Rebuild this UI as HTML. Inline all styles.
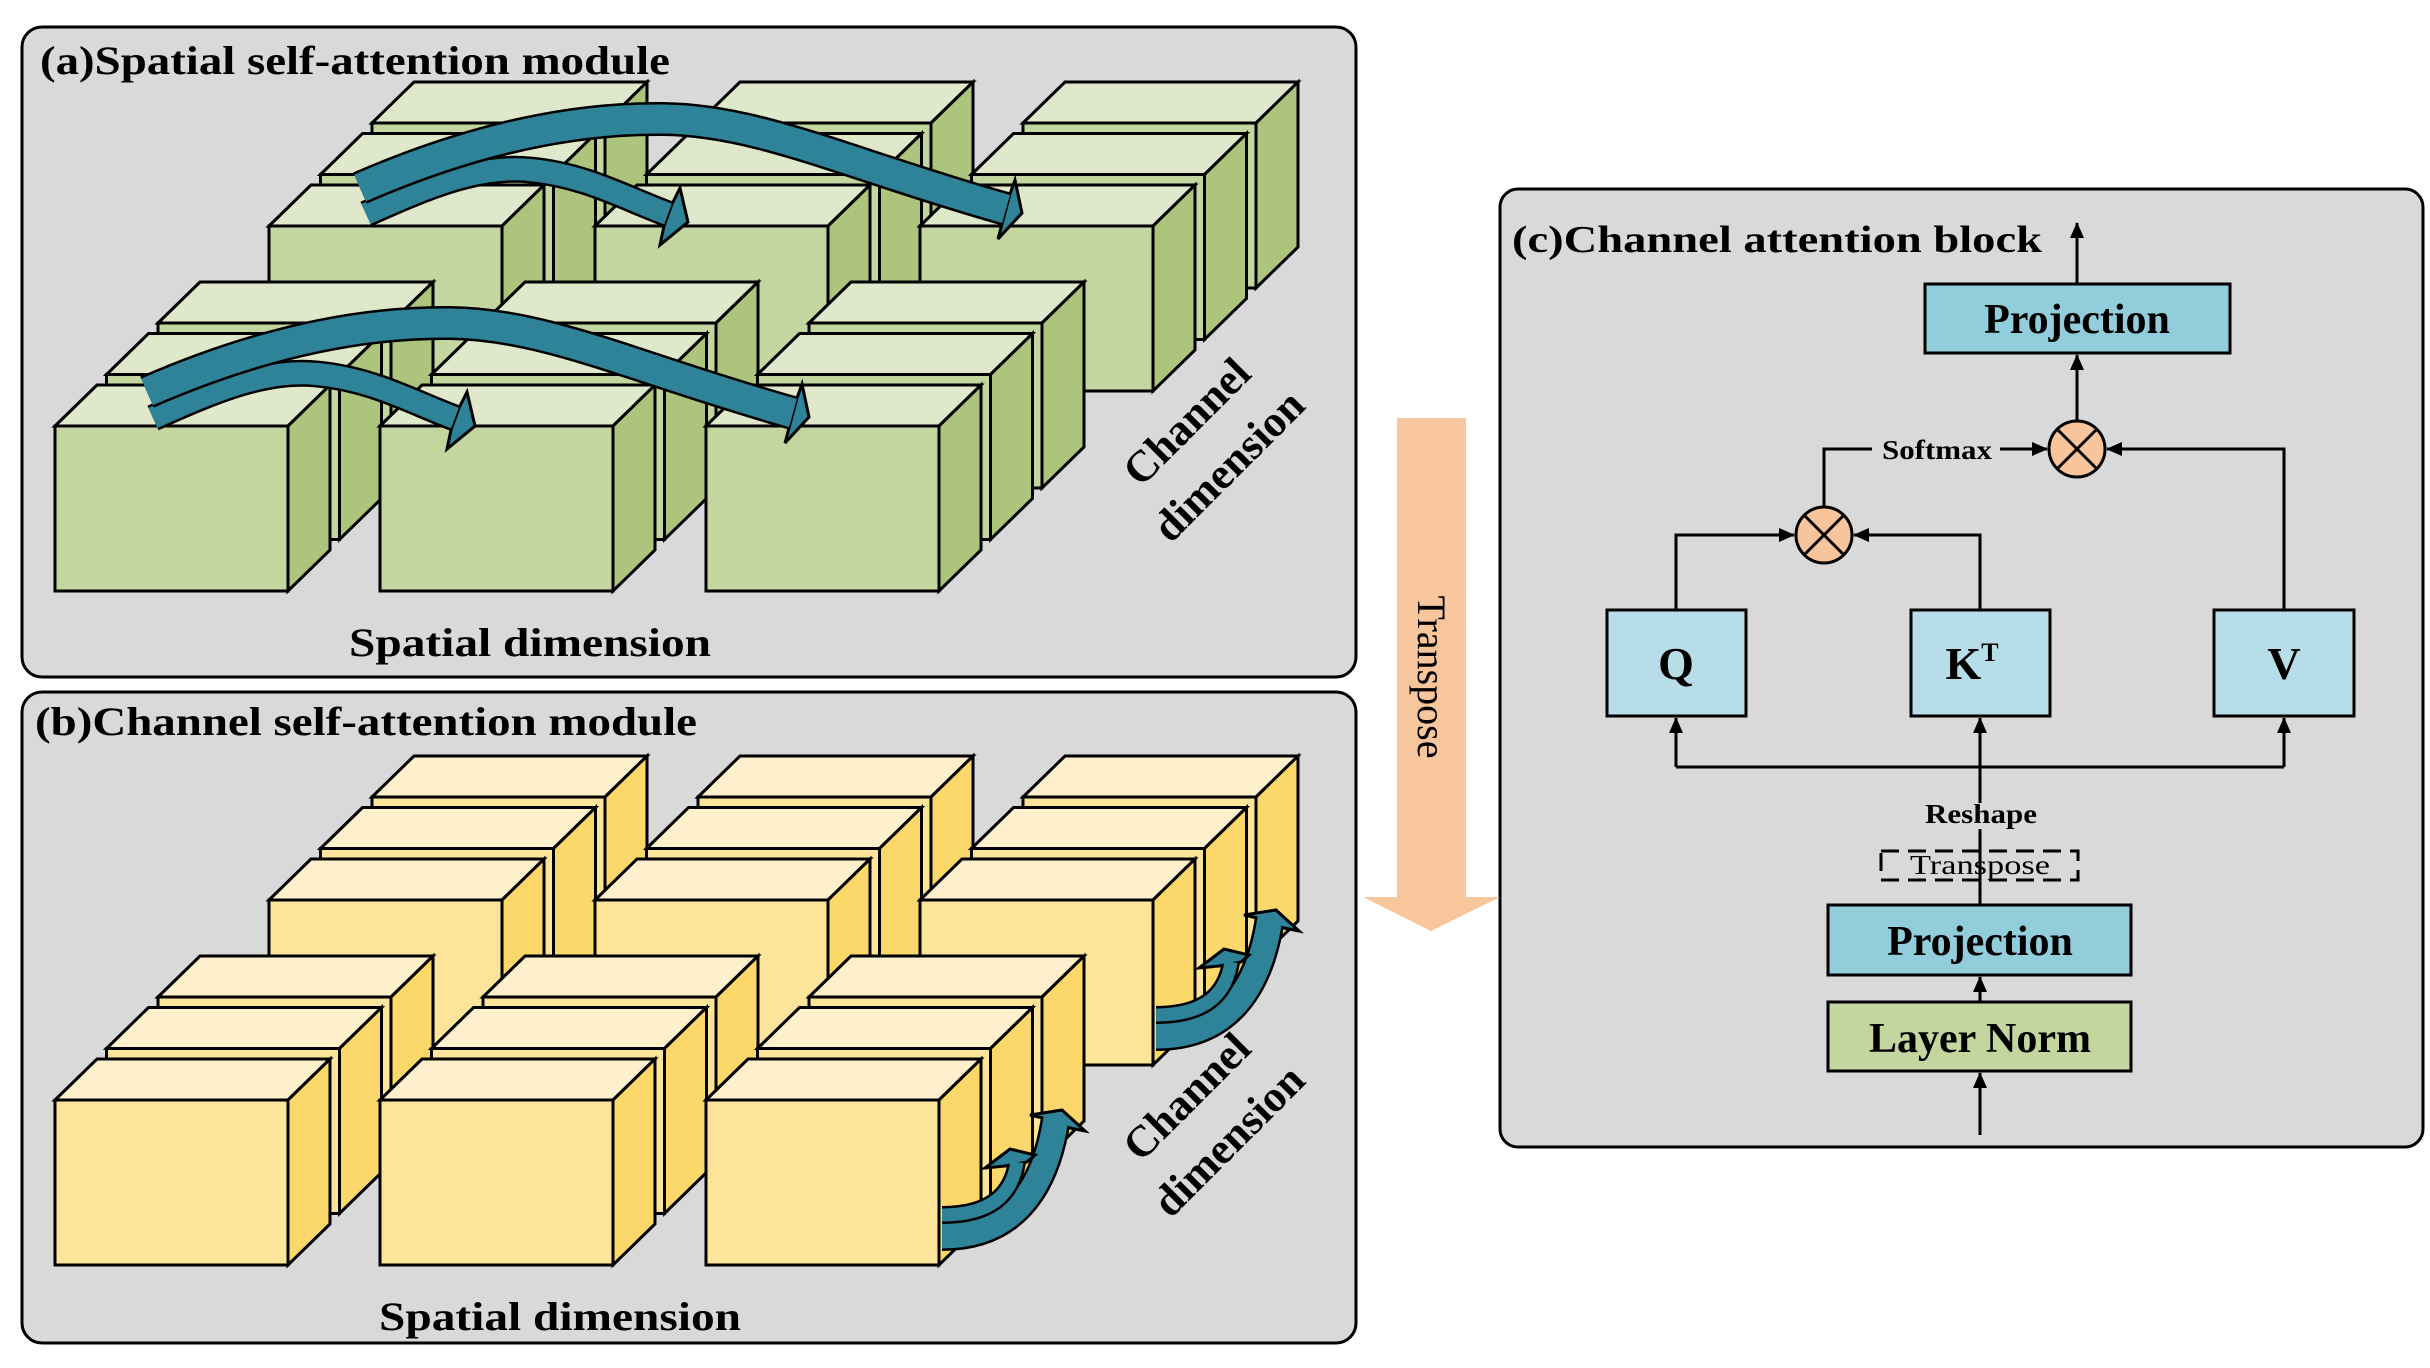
<!DOCTYPE html>
<html><head><meta charset="utf-8">
<style>
html,body{margin:0;padding:0;background:#fff;width:2430px;height:1368px;overflow:hidden}
svg{display:block}
text{font-family:"Liberation Serif",serif;font-weight:bold;fill:#000}
</style></head>
<body>
<svg id="s" width="2430" height="1368" viewBox="0 0 2430 1368" xmlns="http://www.w3.org/2000/svg">
<defs>
<marker id="ah2" markerWidth="16" markerHeight="16" refX="15" refY="8" orient="auto" markerUnits="userSpaceOnUse">
<path d="M0,1 L16,8 L0,15 Z" fill="#000"/></marker>
</defs>
<rect width="2430" height="1368" fill="#fff"/>
<rect x="22" y="27" width="1334" height="650" rx="20" fill="#d9d9d9" stroke="#000" stroke-width="3"/>
<rect x="22" y="692" width="1334" height="651" rx="20" fill="#d9d9d9" stroke="#000" stroke-width="3"/>
<rect x="1500" y="189" width="923" height="958" rx="18" fill="#d9d9d9" stroke="#000" stroke-width="3"/>
<g id="cubesA"></g>
<g id="cubesB"></g>
<text x="40" y="74" font-size="40" textLength="630" lengthAdjust="spacingAndGlyphs">(a)Spatial self-attention module</text>
<text x="35" y="735" font-size="40" textLength="662" lengthAdjust="spacingAndGlyphs">(b)Channel self-attention module</text>
<text x="349" y="656" font-size="40" textLength="362" lengthAdjust="spacingAndGlyphs">Spatial dimension</text>
<text x="379" y="1330" font-size="40" textLength="362" lengthAdjust="spacingAndGlyphs">Spatial dimension</text>
<g transform="translate(1187,422) rotate(-45)"><text x="0" y="14" font-size="44" text-anchor="middle">Channel</text></g>
<g transform="translate(1229,466) rotate(-45)"><text x="0" y="14" font-size="44" text-anchor="middle">dimension</text></g>
<g transform="translate(1187,1097) rotate(-45)"><text x="0" y="14" font-size="44" text-anchor="middle">Channel</text></g>
<g transform="translate(1229,1141) rotate(-45)"><text x="0" y="14" font-size="44" text-anchor="middle">dimension</text></g>
<polygon points="1397,418 1466,418 1466,897 1500,897 1431,931 1363,897 1397,897" fill="#f8c69c"/>
<g transform="translate(1418,677) rotate(90)"><text x="0" y="0" font-size="40" style="font-weight:normal" text-anchor="middle">Transpose</text></g>
<text x="1512" y="252" font-size="38" textLength="530" lengthAdjust="spacingAndGlyphs">(c)Channel attention block</text>
<g stroke="#000" stroke-width="3" fill="none">
<line x1="2077" y1="283" x2="2077" y2="223" marker-end="url(#ah2)"/>
<line x1="2077" y1="421" x2="2077" y2="355" marker-end="url(#ah2)"/>
<polyline points="1824,507 1824,449 1872,449"/>
<line x1="2000" y1="449" x2="2047" y2="449" marker-end="url(#ah2)"/>
<polyline points="2284,610 2284,449 2107,449" marker-end="url(#ah2)"/>
<polyline points="1676,610 1676,535 1794,535" marker-end="url(#ah2)"/>
<polyline points="1980,610 1980,535 1854,535" marker-end="url(#ah2)"/>
<polyline points="1676,767 2284,767"/>
<line x1="1676" y1="767" x2="1676" y2="718" marker-end="url(#ah2)"/>
<line x1="2284" y1="767" x2="2284" y2="718" marker-end="url(#ah2)"/>
<line x1="1980" y1="905" x2="1980" y2="718" marker-end="url(#ah2)"/>
<line x1="1980" y1="1002" x2="1980" y2="977" marker-end="url(#ah2)"/>
<line x1="1980" y1="1135" x2="1980" y2="1073" marker-end="url(#ah2)"/>
</g>
<rect x="1925" y="284" width="305" height="69" fill="#92cddc" stroke="#000" stroke-width="3"/>
<text x="2077" y="333" font-size="42" text-anchor="middle">Projection</text>
<rect x="1607" y="610" width="139" height="106" fill="#b7dde8" stroke="#000" stroke-width="3"/>
<text x="1676" y="679" font-size="46" text-anchor="middle">Q</text>
<rect x="1911" y="610" width="139" height="106" fill="#b7dde8" stroke="#000" stroke-width="3"/>
<text x="1972" y="679" font-size="46" text-anchor="middle">K<tspan font-size="26" dy="-18">T</tspan></text>
<rect x="2214" y="610" width="140" height="106" fill="#b7dde8" stroke="#000" stroke-width="3"/>
<text x="2284" y="679" font-size="46" text-anchor="middle">V</text>
<rect x="1828" y="905" width="303" height="70" fill="#92cddc" stroke="#000" stroke-width="3"/>
<text x="1980" y="955" font-size="42" text-anchor="middle">Projection</text>
<rect x="1828" y="1002" width="303" height="69" fill="#c4d69f" stroke="#000" stroke-width="3"/>
<text x="1980" y="1052" font-size="42" text-anchor="middle">Layer Norm</text>
<text x="1882" y="459" font-size="27" textLength="110" lengthAdjust="spacingAndGlyphs">Softmax</text>
<rect x="1920" y="803" width="120" height="26" fill="#d9d9d9"/>
<text x="1925" y="823" font-size="27" textLength="112" lengthAdjust="spacingAndGlyphs">Reshape</text>
<rect x="1881" y="851" width="197" height="29" fill="#d9d9d9" stroke="#000" stroke-width="3" stroke-dasharray="18,9"/>
<line x1="1980" y1="851" x2="1980" y2="880" stroke="#000" stroke-width="3"/>
<text x="1910" y="874" font-size="27" style="font-weight:normal" textLength="140" lengthAdjust="spacingAndGlyphs">Transpose</text>
<g stroke="#000" stroke-width="3">
<circle cx="1824" cy="535" r="28" fill="#f8c49c"/>
<line x1="1804" y1="515" x2="1844" y2="555"/><line x1="1844" y1="515" x2="1804" y2="555"/>
<circle cx="2077" cy="449" r="28" fill="#f8c49c"/>
<line x1="2057" y1="429" x2="2097" y2="469"/><line x1="2097" y1="429" x2="2057" y2="469"/>
</g>
</svg>
<script>
(function(){
var NS="http://www.w3.org/2000/svg";
function el(p,tag,attrs){var e=document.createElementNS(NS,tag);for(var k in attrs)e.setAttribute(k,attrs[k]);p.appendChild(e);return e;}
var W=233,H=165,DX=42,DY=-41,L=51.5;
function cube(g,x,y,c){
  function poly(pts,fill){el(g,"polygon",{points:pts.map(function(p){return p.join(",")}).join(" "),fill:fill,stroke:"#000","stroke-width":3});}
  poly([[x,y],[x+DX,y+DY],[x+W+DX,y+DY],[x+W,y]],c[1]);
  poly([[x+W,y],[x+W+DX,y+DY],[x+W+DX,y+H+DY],[x+W,y+H]],c[2]);
  poly([[x,y],[x+W,y],[x+W,y+H],[x,y+H]],c[0]);
}
function grid(g,y0,c){
  var rows=[[[269,595,920],y0-200],[[55,380,706],y0]];
  rows.forEach(function(r){
    for(var k=2;k>=0;k--){r[0].forEach(function(x){cube(g,x+k*L,r[1]-k*L,c);});}
  });
}
var gA=document.getElementById("cubesA"),gB=document.getElementById("cubesB");
grid(gA,426,["#c4d6a0","#dfe8cb","#adc47c"]);
grid(gB,1100,["#fde49b","#fef0cc","#fcd86a"]);
var T="#2e8399";
function arrow(g,tr,d,w,head){
  var gg=el(g,"g",{transform:tr});
  el(gg,"path",{d:d,fill:"none",stroke:"#000","stroke-width":w+5});
  el(gg,"polygon",{points:head,fill:T,stroke:"#000","stroke-width":3});
  el(gg,"path",{d:d,fill:"none",stroke:T,"stroke-width":w});
}
var smallA="M366,214 C430,185 480,165 530,170 C585,175 625,198 668,214";
var smallAH="672,204 680,188 688,222 660,245 664,226";
var bigA="M360,188 C470,140 570,118 663,119 C760,120 850,165 1006,209";
var bigAH="1010,194 1015,180 1022,213 998,239 1002,224";
["translate(0,0)","translate(-213,204)"].forEach(function(t){
  arrow(gA,t,smallA,22,smallAH);
  arrow(gA,t,bigA,29,bigAH);
});
var bigB="M942,1236 C1010,1236 1045,1192 1056,1118";
var bigBH="1043,1118 1030,1115 1062,1110 1085,1131 1070,1128";
var smallB="M942,1215 C990,1215 1012,1195 1017,1162";
var smallBH="1005,1166 985,1168 1010,1149 1035,1155 1027,1162";
["translate(0,0)","translate(214,-200)"].forEach(function(t){
  arrow(gB,t,bigB,25,bigBH);
  arrow(gB,t,smallB,13,smallBH);
});
})();
</script>
</body></html>
